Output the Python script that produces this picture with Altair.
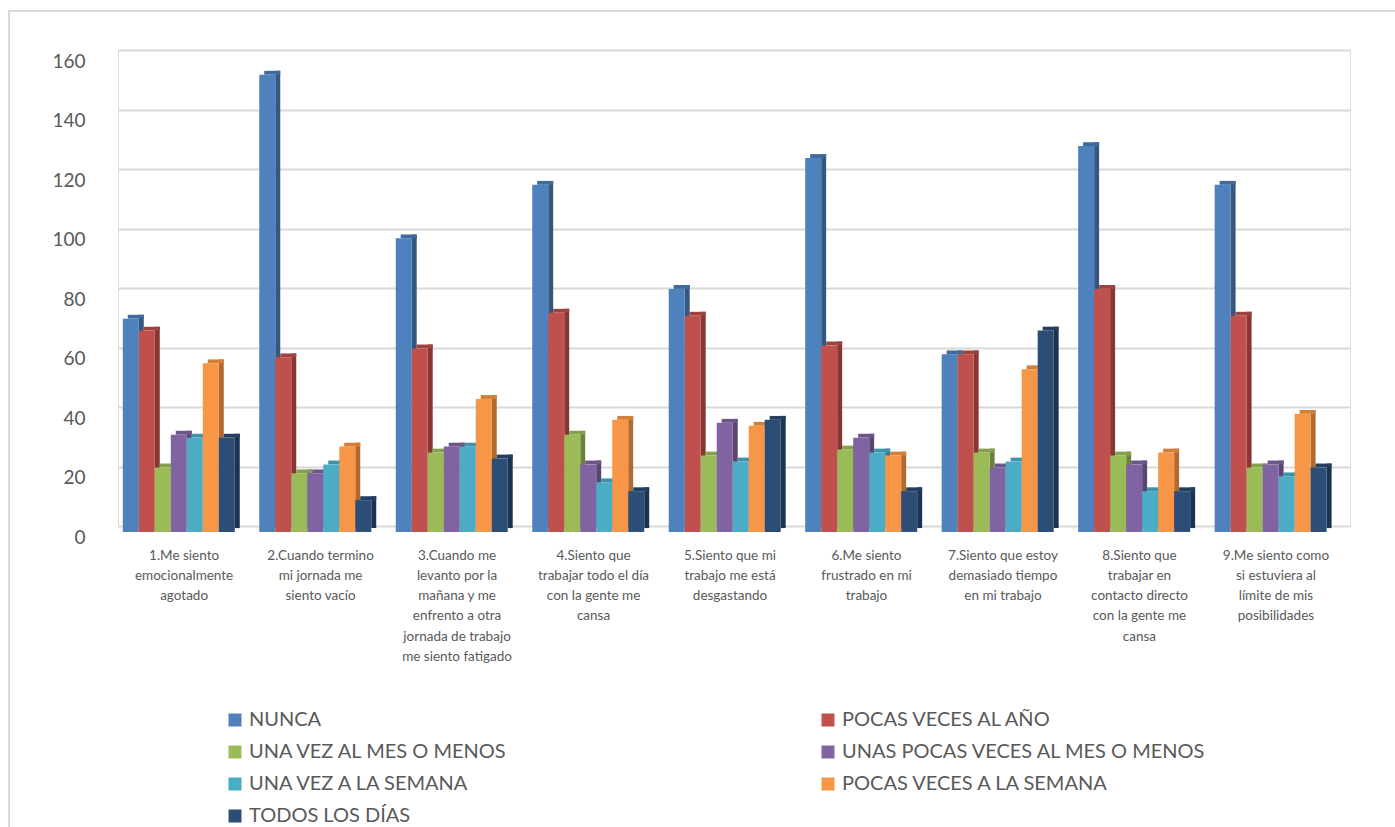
import altair as alt
import pandas as pd

categories = [
    "1.Me siento|emocionalmente|agotado",
    "2.Cuando termino|mi jornada me|siento vacío",
    "3.Cuando me|levanto por la|mañana y me|enfrento a otra|jornada de trabajo|me siento fatigado",
    "4.Siento que|trabajar todo el día|con la gente me|cansa",
    "5.Siento que mi|trabajo me está|desgastando",
    "6.Me siento|frustrado en mi|trabajo",
    "7.Siento que estoy|demasiado tiempo|en mi trabajo",
    "8.Siento que|trabajar en|contacto directo|con la gente me|cansa",
    "9.Me siento como|si estuviera al|límite de mis|posibilidades",
]
series = [
    "NUNCA",
    "POCAS VECES AL AÑO",
    "UNA VEZ AL MES O MENOS",
    "UNAS POCAS VECES AL MES O MENOS",
    "UNA VEZ A LA SEMANA",
    "POCAS VECES A LA SEMANA",
    "TODOS LOS DÍAS",
]
nunca = [71, 153, 98, 116, 81, 125, 59, 129, 116]
pocas_anio = [67, 58, 61, 73, 72, 62, 59, 81, 72]
una_vez_mes = [21, 19, 26, 32, 25, 27, 26, 25, 21]
unas_pocas_mes = [32, 19, 28, 22, 36, 31, 21, 22, 22]
una_vez_semana = [31, 22, 28, 16, 23, 26, 23, 13, 18]
pocas_semana = [56, 28, 44, 37, 35, 25, 54, 26, 39]
todos_dias = [31, 10, 24, 13, 37, 13, 67, 13, 21]
values = [nunca, pocas_anio, una_vez_mes, unas_pocas_mes, una_vez_semana, pocas_semana, todos_dias]

front_colors = ["#4F81BD", "#C0504D", "#9BBB59", "#8064A2", "#4BACC6", "#F79646", "#2C4D75"]
side_colors = ["#34587F", "#873634", "#6B823D", "#584671", "#327A8C", "#B0692E", "#1B3350"]
top_colors = ["#3F6A9C", "#A0423F", "#84A04A", "#6C5589", "#3E93AA", "#D47F38", "#243F60"]

rows = []
for gi, cat in enumerate(categories):
    for si, name in enumerate(series):
        rows.append({"category": cat, "gi": gi, "series": name, "si": si, "value": values[si][gi]})
df = pd.DataFrame(rows)

STEP = 8.53
DX = 0.31
DY = 1.3
BASE = -2.0
CENTER = 3.8

label_list = "[" + ",".join("'" + c + "'" for c in categories) + "]"
label_expr = f"split({label_list}[round((datum.value - {CENTER}) / {STEP})], '|')"

x_scale = alt.Scale(domain=[-0.3, 76.7], nice=False, zero=False)
x_axis = alt.Axis(
    values=[gi * STEP + CENTER for gi in range(len(categories))],
    labelExpr=label_expr,
    title=None, grid=False, domain=False, ticks=False,
    labelFont="Lato", labelFontSize=13.5, labelColor="#595959",
    labelLineHeight=20.3, labelPadding=22, labelAngle=0, labelBaseline="top",
    labelLimit=0,
)
y_scale = alt.Scale(domain=[0, 160], nice=False, zero=False)
y_axis = alt.Axis(
    values=[0, 20, 40, 60, 80, 100, 120, 140, 160],
    title=None, grid=True, gridColor="#D9D9D9", gridWidth=2,
    domain=False, ticks=False, labelFont="Lato", labelFontSize=19,
    labelColor="#595959", labelPadding=33, labelOffset=11,
)

base = alt.Chart(df).transform_calculate(
    x0=f"datum.gi * {STEP} + datum.si",
    x1=f"datum.gi * {STEP} + datum.si + 1",
    xs=f"datum.gi * {STEP} + datum.si + 1 + {DX}",
    xt=f"datum.gi * {STEP} + datum.si + {DX}",
    yb=f"{BASE}",
    ysb=f"{BASE + DY}",
    yf=f"datum.value - {DY}",
)

side = base.mark_rect().encode(
    x=alt.X("x1:Q", scale=x_scale, axis=x_axis),
    x2="xs:Q",
    y=alt.Y("ysb:Q", scale=y_scale, axis=y_axis),
    y2="value:Q",
    color=alt.Color("series:N", scale=alt.Scale(domain=series, range=side_colors), legend=None),
)
top = base.mark_rect().encode(
    x=alt.X("xt:Q", scale=x_scale, axis=x_axis),
    x2="xs:Q",
    y=alt.Y("yf:Q", scale=y_scale, axis=y_axis),
    y2="value:Q",
    color=alt.Color("series:N", scale=alt.Scale(domain=series, range=top_colors), legend=None),
)
front = base.mark_rect().encode(
    x=alt.X("x0:Q", scale=x_scale, axis=x_axis),
    x2="x1:Q",
    y=alt.Y("yb:Q", scale=y_scale, axis=y_axis),
    y2="yf:Q",
    color=alt.Color(
        "series:N",
        scale=alt.Scale(domain=series, range=front_colors),
        legend=alt.Legend(
            orient="none", legendX=107, legendY=660, columns=2, columnPadding=204,
            direction="horizontal",
            gridAlign="all", title=None, symbolType="square", symbolSize=169,
            symbolStrokeWidth=0, labelFont="Lato", labelFontSize=20, labelColor="#595959",
            labelLimit=0, rowPadding=12, labelOffset=4,
        ),
    ),
)

border = alt.Chart(pd.DataFrame({"a": [0]})).mark_rect(
    fillOpacity=0, stroke="#D9D9D9", strokeWidth=2
).encode(
    x=alt.value(-109), x2=alt.value(1300), y=alt.value(-39), y2=alt.value(820)
)

chart = alt.layer(border, side, top, front).resolve_scale(color="independent").properties(
    width=1232, height=476,
    autosize=alt.AutoSizeParams(type="none"),
    padding={"left": 118, "top": 50, "right": 45, "bottom": 301},
).configure_view(stroke=None).configure(background="white")

chart.save("out.html", embed_options={"renderer": "svg", "actions": False})
